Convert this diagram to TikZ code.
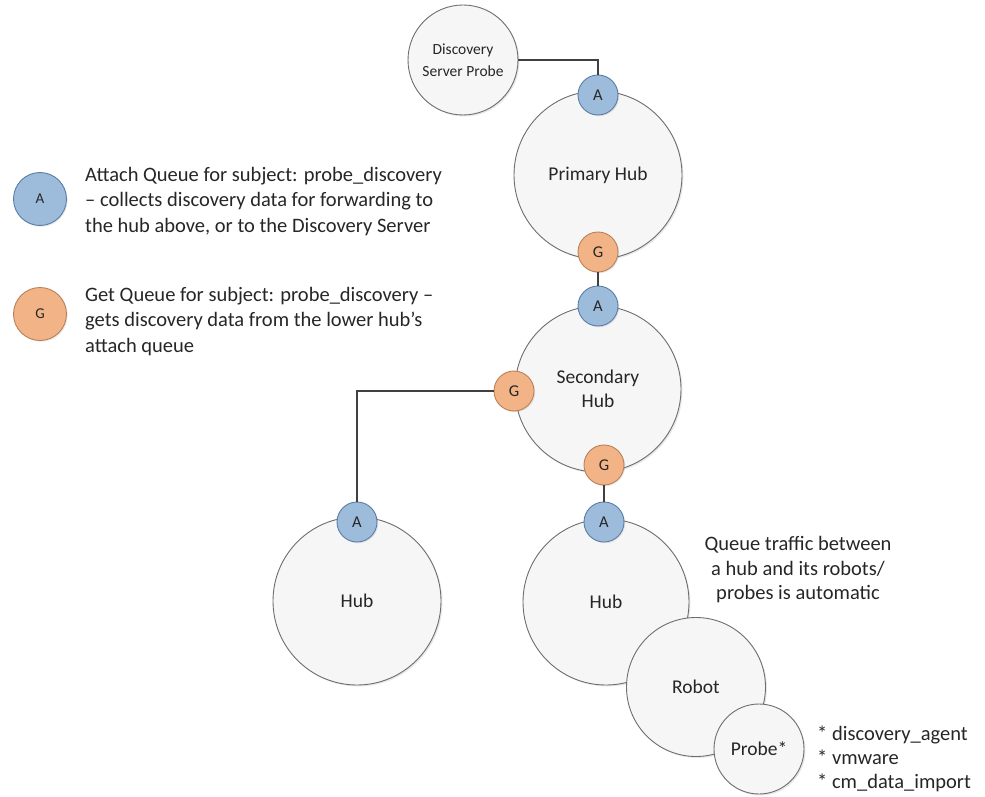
\documentclass[tikz,border=0pt]{standalone}
\usepackage{fontspec}
\setmainfont{Carlito}
\usetikzlibrary{shadows}
\definecolor{bigfill}{HTML}{F6F6F6}
\definecolor{bigdraw}{HTML}{6E6E6E}
\definecolor{afill}{HTML}{9DBCDC}
\definecolor{adraw}{HTML}{5A7DA5}
\definecolor{gfill}{HTML}{F2B487}
\definecolor{gdraw}{HTML}{B98058}
\definecolor{linec}{HTML}{404040}
\definecolor{txt}{HTML}{262626}
\tikzset{
  bigc/.style={circle, draw=bigdraw, line width=0.9pt, fill=bigfill, inner sep=0pt, align=center, text=txt, font=\fontsize{19.5}{24}\selectfont,
    drop shadow={opacity=0.18, shadow xshift=1.5pt, shadow yshift=-1.5pt}},
  qa/.style={circle, draw=adraw, line width=0.9pt, fill=afill, inner sep=0pt, minimum size=40pt, text=txt, font=\fontsize{16.5}{18}\selectfont,
    drop shadow={opacity=0.18, shadow xshift=1.2pt, shadow yshift=-1.2pt}},
  qg/.style={qa, draw=gdraw, fill=gfill},
  conn/.style={draw=linec, line width=1.5pt},
  legtxt/.style={anchor=north west, align=left, text=txt, font=\fontsize{20.5}{25.5}\selectfont, inner sep=0pt},
}
\begin{document}
\begin{tikzpicture}[x=1pt,y=-1pt]
\useasboundingbox (0,0) rectangle (985,797);
% big circles
\node[bigc, minimum size=110pt, font=\fontsize{15.5}{22}\selectfont] (dsp) at (463,60) {Discovery\\Server Probe};
\node[bigc, minimum size=168pt] (ph) at (598,175) {Primary Hub};
\node[bigc, minimum size=166pt] (sh) at (598,389) {Secondary\\Hub};
\node[bigc, minimum size=168pt] (h1) at (357,601) {Hub};
\node[bigc, minimum size=166pt] (h2) at (606,602) {Hub};
\node[bigc, minimum size=139pt] (rb) at (696,687) {Robot};
\node[bigc, minimum size=90pt] (pr) at (759,749) {Probe*};
% queue circles
\node[qa] (a1) at (598,95) {A};
\node[qg] (g1) at (598,252) {G};
\node[qa] (a2) at (598,306) {A};
\node[qg] (g2) at (514,391) {G};
\node[qg] (g3) at (604,465) {G};
\node[qa] (a3) at (357,522) {A};
\node[qa] (a4) at (604,522) {A};
% connectors
\draw[conn] (dsp.east) -| (a1.north);
\draw[conn] (g1.south) -- (a2.north);
\draw[conn] (g2.west) -| (a3.north);
\draw[conn] (g3.south) -- (a4.north);
% legend
\node[qa, minimum size=53pt, font=\fontsize{15}{17}\selectfont] (la) at (40,199) {A};
\node[qg, minimum size=53pt, font=\fontsize{15}{17}\selectfont] (lg) at (40,314) {G};
\node[legtxt] (lta) at (85,167) {Attach Queue for subject: probe\_discovery\\– collects discovery data for forwarding to\\the hub above, or to the Discovery Server};
\node[legtxt] (ltg) at (85,287) {Get Queue for subject: probe\_discovery –\\gets discovery data from the lower hub’s\\attach queue};
% notes
\node[align=center, text=txt, font=\fontsize{20.5}{24.5}\selectfont, inner sep=0pt] (note) at (798,570) {Queue traffic between\\a hub and its robots/\\probes is automatic};
\node[anchor=north west, align=left, text=txt, font=\fontsize{20.5}{24}\selectfont, inner sep=0pt] (plist) at (817,726) {* discovery\_agent\\* vmware\\* cm\_data\_import};
\end{tikzpicture}
\end{document}
